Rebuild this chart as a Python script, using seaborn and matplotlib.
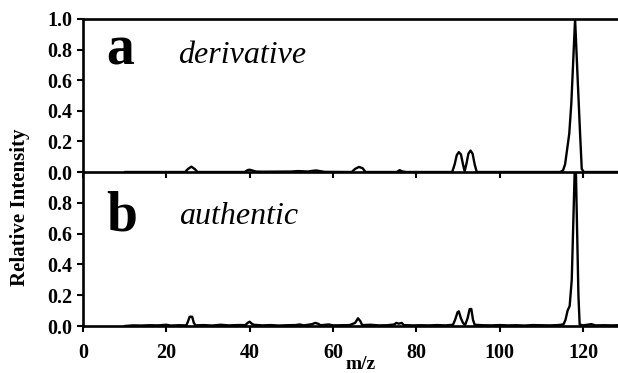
import numpy as np
import pandas as pd
import matplotlib
matplotlib.use("Agg")
import matplotlib.pyplot as plt
import seaborn as sns

# spectrum a: derivative (m/z, relative intensity)
mz_a = [10, 24.5, 25.2, 26.0, 26.8, 27.5, 38.8, 39.5, 40.0, 40.6, 41.5, 43, 50, 51.5, 52.5, 54,
        55.2, 56.0, 56.8, 58, 64.5, 65.3, 66.2, 67.1, 67.8, 75.3, 76.0, 76.6, 77.5,
        88.6, 89.2, 89.7, 90.2, 90.7, 91.2, 91.6, 92.0, 92.5, 93.0, 93.5, 94.0, 94.5,
        114.5, 115.2, 115.7, 116.2, 116.7, 117.2, 118.1, 118.7, 119.3, 119.7, 120.2, 128.4]
int_a = [0, 0, 0.02, 0.035, 0.02, 0, 0, 0.012, 0.015, 0.01, 0.003, 0.002, 0.003, 0.006, 0.005, 0.003,
         0.008, 0.01, 0.006, 0.001, 0, 0.02, 0.033, 0.025, 0, 0, 0.012, 0.004, 0,
         0, 0.05, 0.11, 0.13, 0.115, 0.05, 0.005, 0.05, 0.12, 0.14, 0.12, 0.05, 0,
         0, 0.01, 0.05, 0.15, 0.25, 0.45, 1.0, 0.62, 0.25, 0.02, 0, 0]

# spectrum b: authentic
mz_b = [10, 12, 14, 16, 18, 20, 21, 23, 24.8, 25.2, 25.6, 26.2, 26.6, 27, 29, 31, 33, 35, 37, 39,
        39.5, 40.0, 40.5, 41, 43, 45, 47, 49, 51, 52, 53, 55, 55.7, 56.4, 57, 59, 60, 62, 64,
        65.3, 66.0, 66.6, 67, 69, 71, 73, 74.7, 75.2, 75.8, 76.5, 77, 79, 81, 83, 85, 87,
        88.8, 89.3, 89.9, 90.2, 90.7, 91.2, 91.7, 92.3, 92.8, 93.2, 93.6, 94, 96, 98, 100,
        102, 104, 106, 108, 110, 112, 114, 115.3, 115.8, 116.3, 116.8, 117.3, 118.0, 118.3,
        118.9, 119.2, 120, 122, 123, 125, 127, 128.4]
int_b = [0, 0.004, 0.003, 0.005, 0.004, 0.008, 0.003, 0.005, 0.004, 0.03, 0.06, 0.06, 0.02, 0.004,
         0.006, 0.003, 0.008, 0.004, 0.006, 0.006, 0.02, 0.028, 0.015, 0.008, 0.004, 0.006, 0.003,
         0.005, 0.006, 0.01, 0.004, 0.012, 0.02, 0.015, 0.005, 0.01, 0.004, 0.005, 0.006,
         0.02, 0.05, 0.03, 0.006, 0.008, 0.004, 0.005, 0.01, 0.02, 0.015, 0.02, 0.006, 0.004,
         0.005, 0.004, 0.006, 0.004, 0.008, 0.04, 0.09, 0.095, 0.05, 0.02, 0.006, 0.05, 0.11,
         0.11, 0.04, 0.008, 0.005, 0.004, 0.006, 0.004, 0.005, 0.003, 0.006, 0.005, 0.004,
         0.006, 0.01, 0.04, 0.1, 0.13, 0.3, 1.0, 1.0, 0.2, 0.01, 0.004, 0.012, 0.004, 0.005,
         0.004, 0.005]

panel_letters = ["a", "b"]
panel_names = ["derivative", "authentic"]
xticks = [0, 20, 40, 60, 80, 100, 120]
yticks_a = [0.0, 0.2, 0.4, 0.6, 0.8, 1.0]
yticks_b = [0.0, 0.2, 0.4, 0.6, 0.8]

sns.set_style("ticks")
plt.rcParams['font.family'] = ['Liberation Serif', 'DejaVu Serif']
plt.rcParams['font.weight'] = 'bold'
plt.rcParams['text.color'] = 'black'
plt.rcParams['xtick.color'] = 'black'
plt.rcParams['ytick.color'] = 'black'
plt.rcParams['axes.edgecolor'] = 'black'

fig = plt.figure(figsize=(6.18, 3.73), dpi=100)
ax_a = fig.add_axes([83 / 618, 1 - 172 / 373, 1 - 83 / 618, 153 / 373])
ax_b = fig.add_axes([83 / 618, 1 - 326 / 373, 1 - 83 / 618, 154 / 373])

df_a = pd.DataFrame({"mz": mz_a, "intensity": int_a})
df_b = pd.DataFrame({"mz": mz_b, "intensity": int_b})

for ax, df, yt in [(ax_a, df_a, yticks_a), (ax_b, df_b, yticks_b)]:
    sns.lineplot(data=df, x="mz", y="intensity", ax=ax, color="black", lw=1.7,
                 sort=False, estimator=None)
    ax.set_xlim(0, 128.4)
    ax.set_ylim(0, 1.0)
    ax.set_xticks(xticks)
    ax.set_yticks(yt)
    ax.set_yticklabels([f"{v:.1f}" for v in yt])
    ax.set_xlabel("")
    ax.set_ylabel("")
    for s in ["left", "bottom", "top"]:
        ax.spines[s].set_linewidth(1.9)
    ax.spines["right"].set_visible(False)
    ax.tick_params(direction="out", length=4, width=1.5, labelsize=14.5,
                   colors="black")
    ax.tick_params(axis="y", pad=4)
    ax.tick_params(axis="x", pad=8)
    ax.patch.set_alpha(0)

ax_a.tick_params(axis="x", labelbottom=False)
ax_b.spines["top"].set_visible(False)
for lab in ax_b.get_xticklabels() + ax_b.get_yticklabels() + ax_a.get_yticklabels():
    lab.set_fontweight("bold")

ax_a.text(5.5, 0.70, panel_letters[0], fontsize=40, fontweight="bold", va="baseline")
ax_a.text(22.8, 0.71, panel_names[0], fontsize=23, fontstyle="italic", fontweight="normal",
          va="baseline")
ax_b.text(5.5, 0.62, panel_letters[1], fontsize=40, fontweight="bold", va="baseline")
ax_b.text(23, 0.665, panel_names[1], fontsize=23, fontstyle="italic", fontweight="normal",
          va="baseline")

fig.text(20 / 618, 1 - 207 / 373, "Relative Intensity", rotation=90, fontsize=15,
         fontweight="bold", ha="center", va="center")
# x label sits just right of the "60" tick label, as tight as the original
fig.text(346 / 618, 1 - 373 / 373, "m/z", fontsize=14, fontweight="bold",
         ha="left", va="bottom")

fig.savefig("out.png", dpi=100, facecolor="white")
